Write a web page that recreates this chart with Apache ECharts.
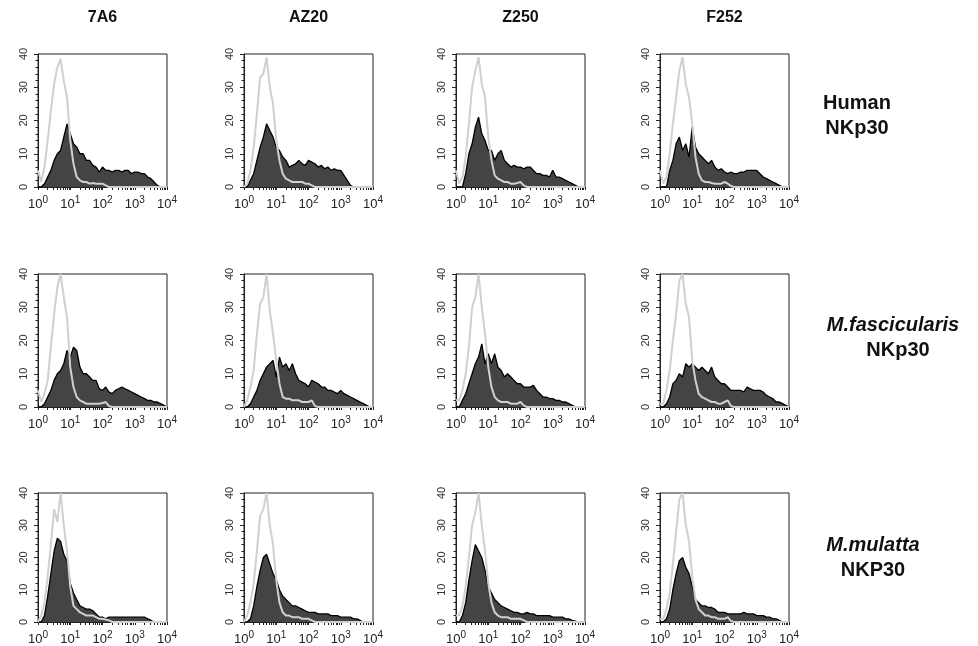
<!DOCTYPE html>
<html><head><meta charset="utf-8">
<script src="https://cdn.jsdelivr.net/npm/echarts@6/dist/echarts.min.js"></script>
<style>html,body{margin:0;padding:0;background:#fff}#c{width:978px;height:646px}</style>
</head><body><div id="c"></div>
<script>
// log10 fluorescence channel positions (bin centres)
const LOG_BINS = [0,0.1,0.2,0.3,0.4,0.5,0.6,0.7,0.8,0.9,1.0,1.1,1.2,1.3,1.4,1.5,1.6,1.7,1.8,1.9,2.0,2.1,2.2,2.3,2.4,2.5,2.6,2.7,2.8,2.9,3.0,3.1,3.2,3.3,3.4,3.5,3.6,3.7,3.8,3.9,4.0];
const ANTIBODIES = ['7A6','AZ20','Z250','F252'];
const SPECIES = [['Human','NKp30',false],['M.fascicularis','NKp30',true],['M.mulatta','NKP30',true]];
const X_TICK_LABELS = [0,1,2,3,4];
const Y_TICK_LABELS = [0,10,20,30,40];

// isotype control (grey) and NKp30 staining (dark) — cell counts
const HUMAN_7A6_ISO   = [5,1.5,6,14,23,31,36,38.5,32,27,14,7,3,2,1.5,1.5,1,1.2,1,1,1,0.5,0,0,0,0,0,0,0,0,0,0,0,0,0,0,0,0,0,0,0];
const HUMAN_7A6_NK    = [0,0,1,3,5,8,10,11,15,19,16,13,12,10,10,8,8,6.5,6,4.5,6,5,5,4.5,5,5,4.5,5,5,4,4.5,4.5,4,4,3,2.5,1.5,0.5,0,0,0];
const HUMAN_AZ20_ISO  = [0,1,5,12,22,33,34,39,30,25,14,8,4,2.5,2,1.5,1.5,1.5,1.5,1,1,0.5,0,0,0,0,0,0,0,0,0,0,0,0,0,0,0,0,0,0,0];
const HUMAN_AZ20_NK   = [0,0,2,4,8,12,15,19,17,15,12,11,9,8,6,6.5,7,8,7,6.5,8,7.5,7,6,6.5,5.5,6,5,5.5,5,5,3.5,2,0.5,0,0,0,0,0,0,0];
const HUMAN_Z250_ISO  = [5,1,3,9,19,30,35,39,31,27,15,8,3.5,2.5,2,1.5,1.5,1,1,1.2,1.5,0.5,0,0,0,0,0,0,0,0,0,0,0,0,0,0,0,0,0,0,0];
const HUMAN_Z250_NK   = [0,0,0,4,10,13,18,21,16,14,11,11,8,10,11,8,7,6,6.5,6,6,5.5,6,6,5,4,4,3.5,3.5,3,5,3,3,2.5,2,1.5,1,0.5,0,0,0];
const HUMAN_F252_ISO  = [5,1,3,10,19,27,35,39,31,27,19,9,4,2,1.5,1.5,1.2,1,1,1,1.5,1,0.3,0,0,0,0,0,0,0,0,0,0,0,0,0,0,0,0,0,0];
const HUMAN_F252_NK   = [0,0,0,5,8,13,15,11,13,9,18,12,10,9,8,7,8,6,5,5.5,4.5,4,4.5,4,4,4.5,4.5,5,5,5,5,4,3,2.5,2,1.5,1,0.5,0,0,0];
const FASC_7A6_ISO    = [5,1.5,4,8,18,28,36,40,33,27,12,6,3,2,1.5,1,1,1,1,1,1.2,1.5,0.3,0,0,0,0,0,0,0,0,0,0,0,0,0,0,0,0,0,0];
const FASC_7A6_NK     = [0,0,1,3,5,8,10,11,13,17,15,18,17,12,10,10,9,8,8,5.5,5,6,4.5,4,5,5.5,6,5.5,5,4.5,4,3.5,3,2.5,2,2,1.5,1.5,1,0.5,0];
const FASC_AZ20_ISO   = [0,2,6,11,22,31,33,40,29,22,14,7,3,2.5,2.5,2,2,2,1.5,1.5,1.5,2,0.3,0,0,0,0,0,0,0,0,0,0,0,0,0,0,0,0,0,0];
const FASC_AZ20_NK    = [0,0,1,3,5,8,10,12,13,14,9,15,12,13,11,13,10,8,7.5,7,6,8,7.5,7,6,6,5,5,4.5,4,5,4,3.5,3,2.5,2,1.5,1,0.5,0,0];
const FASC_Z250_ISO   = [2,2,5,10,18,30,33,40,30,22,12,6,3,2,1.5,1.5,1.5,1,1,1,1.5,0.5,0,0,0,0,0,0,0,0,0,0,0,0,0,0,0,0,0,0,0];
const FASC_Z250_NK    = [0,0,2,4,7,10,13,15,19,13,16,13,16,12,11,9,10,9,8,7,7,6,6,6,6.5,5,4,3,3,2.5,2.5,2,2,1.5,1.5,1,0.5,0,0,0,0];
const FASC_F252_ISO   = [1,1,5,11,20,28,38,40,31,27,14,8,4,3,2.5,2,1.5,1.5,1,1,1.5,2,0.3,0,0,0,0,0,0,0,0,0,0,0,0,0,0,0,0,0,0];
const FASC_F252_NK    = [0,0,1,3,7,8,10,9,13,12,13,12,11,12,11,10,12,9,8,7,7,6,5,5,5,5,4.5,6,5.5,5,5,5,4.5,3.5,3,2.5,1.5,1.5,1,0.5,0];
const MUL_7A6_ISO     = [0,2,6,14,24,35,31,40,30,22,11,5,4,3,2.5,2,2,2,1.5,1,1,0.8,0.5,0,0,0,0,0,0,0,0,0,0,0,0,0,0,0,0,0,0];
const MUL_7A6_NK      = [0,0,2,8,15,22,26,25,21,19,12,9,7,5,4.5,4,4,3.5,2.5,1.5,1.5,1,1.5,1.5,1.5,1.5,1.5,1.5,1.5,1.5,1.5,1.5,1.5,1.5,1,0.5,0,0,0,0,0];
const MUL_AZ20_ISO    = [0,2,6,12,22,33,35,40,30,24,13,6,3,2,2,1.5,1.5,1.5,1,1,1,0.5,0,0,0,0,0,0,0,0,0,0,0,0,0,0,0,0,0,0,0];
const MUL_AZ20_NK     = [0,0,1,5,11,16,20,21,18,15,13,10,8,7,6,5,5,4.5,4,3.5,3,3,3,2.5,2.5,2.5,2.5,2,2,2,1.5,1.5,1.5,1.5,1,1,0.5,0,0,0,0];
const MUL_Z250_ISO    = [2,2,5,11,20,30,34,40,30,22,12,6,3,2,1.5,1.5,1.5,1,1,1,1,0.5,0,0,0,0,0,0,0,0,0,0,0,0,0,0,0,0,0,0,0];
const MUL_Z250_NK     = [0,0,2,6,13,19,24,22,20,16,11,9,7,6,5,4.5,4,3.5,3,3,2.5,2.5,3,2.5,2.5,2,2,2,2,2,1.5,1.5,1.5,1.5,1,1,0.5,0.3,0,0,0];
const MUL_F252_ISO    = [1,1,4,9,18,28,38,40,30,25,14,7,4,3,2,2,1.5,1.5,1,1,1,1.5,0.3,0,0,0,0,0,0,0,0,0,0,0,0,0,0,0,0,0,0];
const MUL_F252_NK     = [0,0,1,4,10,15,19,20,17,15,11,7,6,5,5,4.5,4.5,4,3,3,3,2.5,2.5,2.5,2.5,2.5,3,2.5,2.5,2.5,2,2,2,1.5,1.5,1,1,0.5,0,0,0];

const PANELS = [
  [[HUMAN_7A6_ISO,HUMAN_7A6_NK],[HUMAN_AZ20_ISO,HUMAN_AZ20_NK],[HUMAN_Z250_ISO,HUMAN_Z250_NK],[HUMAN_F252_ISO,HUMAN_F252_NK]],
  [[FASC_7A6_ISO,FASC_7A6_NK],[FASC_AZ20_ISO,FASC_AZ20_NK],[FASC_Z250_ISO,FASC_Z250_NK],[FASC_F252_ISO,FASC_F252_NK]],
  [[MUL_7A6_ISO,MUL_7A6_NK],[MUL_AZ20_ISO,MUL_AZ20_NK],[MUL_Z250_ISO,MUL_Z250_NK],[MUL_F252_ISO,MUL_F252_NK]]
];

// layout
const GRID_LEFT = [38,244,456,660];
const GRID_TOP = [54,274,493];
const GRID_W = 129, GRID_H = 133;
const FONT = '"Liberation Sans", Arial, sans-serif';

// log minor tick positions
const X_TICKS = [];
for (let k = 0; k < 4; k++) for (let m = 1; m <= 9; m++) X_TICKS.push(k + Math.log10(m));
X_TICKS.push(4);

const grid = [], xAxis = [], yAxis = [], series = [];
let gi = 0;
for (let r = 0; r < 3; r++) {
  for (let c = 0; c < 4; c++) {
    grid.push({left: GRID_LEFT[c], top: GRID_TOP[r], width: GRID_W, height: GRID_H,
      show: true, borderColor: '#222', borderWidth: 1, backgroundColor: 'transparent'});
    xAxis.push({type: 'value', gridIndex: gi, min: 0, max: 4, interval: 1,
      axisLine: {show: true, lineStyle: {color: '#222', width: 1}},
      axisTick: {show: true, length: 3, customValues: X_TICKS, lineStyle: {color: '#222'}},
      splitLine: {show: false},
      axisLabel: {margin: 8, color: '#222', fontFamily: FONT, fontSize: 13,
        formatter: v => '10{s|' + v + '}',
        rich: {s: {fontSize: 10, fontFamily: FONT, color: '#222', padding: [0,0,9,0]}}}
    });
    yAxis.push({type: 'value', gridIndex: gi, min: 0, max: 40, interval: 10, offset: 3,
      axisLine: {show: true, lineStyle: {color: '#222', width: 1}},
      axisTick: {show: true, length: 4, lineStyle: {color: '#222'}},
      minorTick: {show: true, splitNumber: 5, length: 2.5, lineStyle: {color: '#222'}},
      splitLine: {show: false}, minorSplitLine: {show: false},
      axisLabel: {rotate: 90, margin: 6, color: '#333', fontFamily: FONT, fontSize: 11}
    });
    const [iso, nk] = PANELS[r][c];
    series.push({type: 'line', xAxisIndex: gi, yAxisIndex: gi, symbol: 'none', z: 2,
      data: LOG_BINS.map((x, i) => [x, nk[i]]),
      lineStyle: {color: '#000', width: 1.3},
      areaStyle: {color: '#444', opacity: 1}});
    series.push({type: 'line', xAxisIndex: gi, yAxisIndex: gi, symbol: 'none', z: 3,
      data: LOG_BINS.map((x, i) => [x, iso[i]]),
      lineStyle: {color: '#d0d0d0', width: 2}});
    gi++;
  }
}

const graphic = [];
ANTIBODIES.forEach((t, c) => {
  graphic.push({type: 'text', x: GRID_LEFT[c] + GRID_W / 2, y: 10,
    style: {text: t, font: 'bold 16px ' + FONT, fill: '#111', textAlign: 'center'}});
});
const ROW_CENTER_X = [857, 893, 873];
const ROW_Y = [93, 315, 535];
SPECIES.forEach((s, r) => {
  graphic.push({type: 'text', x: ROW_CENTER_X[r], y: ROW_Y[r],
    style: {text: s[0], font: (s[2] ? 'italic ' : '') + 'bold 20px ' + FONT, fill: '#111', textAlign: 'center'}});
  graphic.push({type: 'text', x: ROW_CENTER_X[r] + (r === 1 ? 5 : 0), y: ROW_Y[r] + 25,
    style: {text: s[1], font: 'bold 20px ' + FONT, fill: '#111', textAlign: 'center'}});
});

const chart = echarts.init(document.getElementById('c'), null, {renderer: 'canvas'});
chart.setOption({animation: false, backgroundColor: '#fff', grid, xAxis, yAxis, series, graphic});
</script></body></html>
